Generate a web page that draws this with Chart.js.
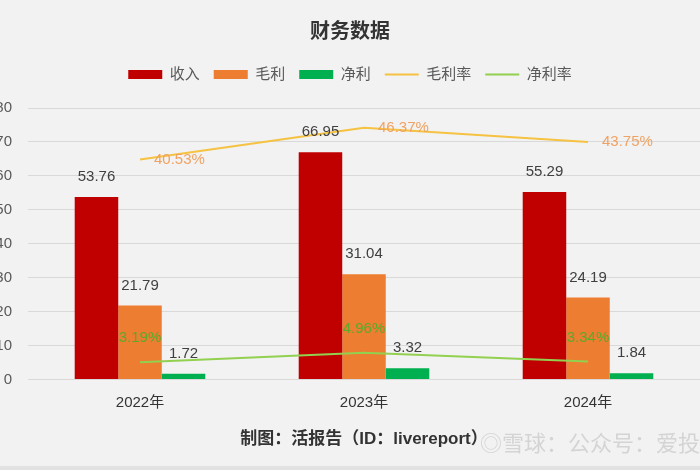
<!DOCTYPE html>
<html>
<head>
<meta charset="utf-8">
<script src="https://cdn.jsdelivr.net/npm/chart.js@4.4.1/dist/chart.umd.min.js"></script>
<style>
  html, body { margin: 0; padding: 0; background: #f2f2f2; }
  #wrap { position: relative; width: 700px; height: 470px; overflow: hidden; background: #f2f2f2; }
  #wrap:after { content: ""; position: absolute; left: 0; right: 0; bottom: 0; height: 4px; background: #e2e2e2; }
  #mark { position: absolute; left: 480px; top: 425px; font: 22px "Noto Sans CJK SC", sans-serif; color: rgba(175,175,175,0.45); white-space: nowrap; }
</style>
</head>
<body>
<div id="wrap">
  <canvas id="myChart" width="700" height="470"></canvas>
  <div id="mark">◎雪球：公众号：爱投资的活报</div>
</div>
<script>
// chart data
var years = ["2022年", "2023年", "2024年"];
var revenue = [53.76, 66.95, 55.29];
var grossProfit = [21.79, 31.04, 24.19];
var netProfit = [1.72, 3.32, 1.84];
var grossMargin = [40.53, 46.37, 43.75];
var netMargin = [3.19, 4.96, 3.34];
var yTicks = [0, 10, 20, 30, 40, 50, 60, 70, 80];

var FONT = "'Liberation Sans', 'Noto Sans CJK SC', sans-serif";

// draws value labels (no datalabels plugin offline)
var valueLabels = {
  id: 'valueLabels',
  beforeInit: function (chart) {
    // extra room under the legend
    var fit = chart.legend.fit;
    chart.legend.fit = function () {
      fit.bind(chart.legend)();
      this.height += 16;
    };
  },
  afterDatasetsDraw: function (chart) {
    var ctx = chart.ctx;
    ctx.save();
    ctx.font = "15px " + FONT;
    chart.data.datasets.forEach(function (ds, i) {
      var meta = chart.getDatasetMeta(i);
      meta.data.forEach(function (el, j) {
        var v = ds.data[j];
        if (ds.type === 'bar') {
          ctx.fillStyle = '#404040';
          ctx.textAlign = 'center';
          ctx.textBaseline = 'middle';
          ctx.fillText(v.toFixed(2), el.x, el.y - 20);
        } else if (ds.labelPos === 'right') {
          ctx.fillStyle = ds.labelColor;
          ctx.textAlign = 'left';
          ctx.textBaseline = 'middle';
          ctx.fillText(v.toFixed(2) + '%', el.x + 14, el.y);
        } else {
          ctx.fillStyle = ds.labelColor;
          ctx.textAlign = 'center';
          ctx.textBaseline = 'middle';
          ctx.fillText(v.toFixed(2) + '%', el.x, el.y - 24);
        }
      });
    });
    ctx.restore();
  }
};

new Chart(document.getElementById("myChart"), {
  type: 'bar',
  data: {
    labels: years,
    datasets: [
      { type: 'bar', label: '收入', data: revenue, backgroundColor: '#c00000', pointStyle: 'rect', order: 1 },
      { type: 'bar', label: '毛利', data: grossProfit, backgroundColor: '#ed7d31', pointStyle: 'rect', order: 1 },
      { type: 'bar', label: '净利', data: netProfit, backgroundColor: '#00b050', pointStyle: 'rect', order: 1 },
      { type: 'line', label: '毛利率', data: grossMargin, yAxisID: 'y1', borderColor: '#f5c242', backgroundColor: '#f5c242',
        borderWidth: 2, pointRadius: 0, pointStyle: 'line', order: 0, labelPos: 'right', labelColor: '#f0a262' },
      { type: 'line', label: '净利率', data: netMargin, yAxisID: 'y1', borderColor: '#92d050', backgroundColor: '#92d050',
        borderWidth: 2, pointRadius: 0, pointStyle: 'line', order: 0, labelPos: 'top', labelColor: '#5aaa2c' }
    ]
  },
  options: {
    responsive: false,
    animation: false,
    layout: { padding: { left: 0, right: 0, top: 0, bottom: 16 } },
    datasets: { bar: { categoryPercentage: 0.583, barPercentage: 1.0 } },
    plugins: {
      title: {
        display: true,
        text: '财务数据',
        color: '#333333',
        font: { family: FONT, size: 20, weight: 'bold' },
        padding: { top: 20, bottom: 9 }
      },
      legend: {
        position: 'top',
        labels: {
          usePointStyle: true,
          pointStyleWidth: 34,
          boxHeight: 9,
          color: '#595959',
          font: { family: FONT, size: 15 },
          padding: 14,
          sort: function (a, b) { return a.datasetIndex - b.datasetIndex; }
        }
      },
      tooltip: { enabled: false }
    },
    scales: {
      x: {
        grid: { display: false, drawTicks: false },
        border: { display: true, color: '#d9d9d9' },
        ticks: { color: '#333333', font: { family: FONT, size: 15 }, padding: 14 },
        title: {
          display: true,
          text: '制图：活报告（ID：livereport）',
          color: '#333333',
          font: { family: FONT, size: 17, weight: 'bold' },
          padding: { top: 4, bottom: 4 }
        }
      },
      y: {
        min: 0, max: 80,
        afterBuildTicks: function (s) { s.ticks = yTicks.map(function (v) { return { value: v }; }); },
        afterFit: function (s) { s.width = 28; },
        grid: { color: '#d9d9d9', drawTicks: false },
        border: { display: false },
        ticks: { color: '#595959', font: { family: FONT, size: 15 }, padding: 16 }
      },
      y1: { display: false, min: 0, max: 50 }
    }
  },
  plugins: [valueLabels]
});
</script>
</body>
</html>
